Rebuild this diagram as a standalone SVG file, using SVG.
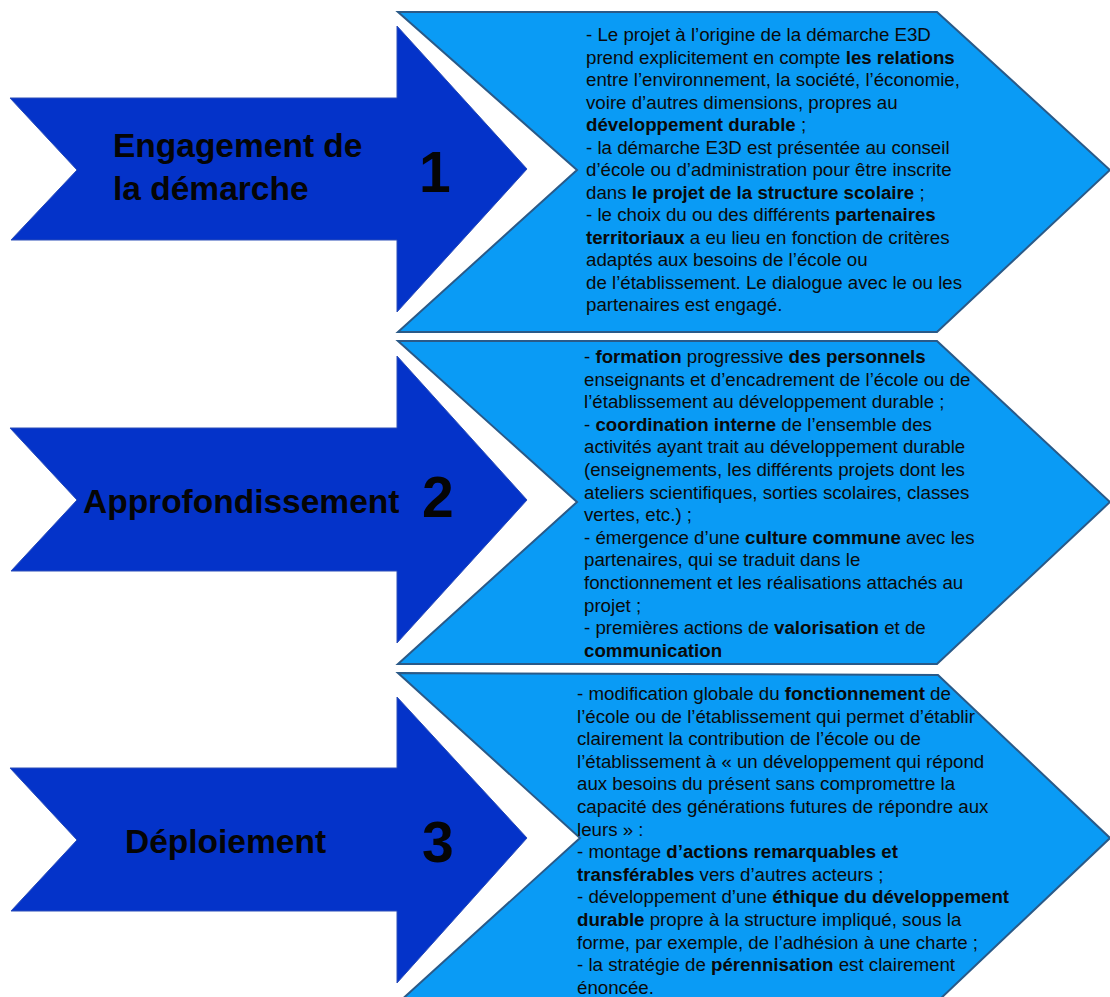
<svg xmlns="http://www.w3.org/2000/svg" width="1110" height="997" viewBox="0 0 1110 997">
<style>
.arrow{fill:#0433c9;stroke:#2c4fb8;stroke-width:1}
.panel{fill:#0a9bf5;stroke:#2a5a88;stroke-width:2}
.label{font-family:"Liberation Sans",Arial,sans-serif;font-weight:bold;font-size:33.5px;fill:#050505}
.num{font-family:"Liberation Sans",Arial,sans-serif;font-weight:bold;font-size:57px;fill:#050505}
.body{font-family:"Liberation Sans",Arial,sans-serif;font-size:18.7px;fill:#0a0a0a}
.b{font-weight:bold}
</style>
<rect width="1110" height="997" fill="#ffffff"/>
<g id="connectors"/>

<g id="step1">
  <polygon class="arrow" points="10,98 397,98 397,26 527,169 397,312 397,240 11,240 77,170"/>
  <text class="label"><tspan x="113" y="157">Engagement de</tspan><tspan x="113" y="200">la démarche</tspan></text>
  <text class="num" x="419" y="192">1</text>
</g>
<g id="panel1">
  <polygon class="panel" points="398,12 937,12 1110,170 937,332 398,332 577,170"/>
  <text class="body">
    <tspan x="586" y="41">- Le projet à l’origine de la démarche E3D</tspan>
    <tspan x="586" y="63.5">prend explicitement en compte <tspan class="b">les relations</tspan></tspan>
    <tspan x="586" y="86">entre l’environnement, la société, l’économie,</tspan>
    <tspan x="586" y="108.5">voire d’autres dimensions, propres au</tspan>
    <tspan x="586" y="131" class="b">développement durable<tspan font-weight="normal"> ;</tspan></tspan>
    <tspan x="586" y="153.5">- la démarche E3D est présentée au conseil</tspan>
    <tspan x="586" y="176">d’école ou d’administration pour être inscrite</tspan>
    <tspan x="586" y="198.5">dans <tspan class="b">le projet de la structure scolaire</tspan> ;</tspan>
    <tspan x="586" y="221">- le choix du ou des différents <tspan class="b">partenaires</tspan></tspan>
    <tspan x="586" y="243.5"><tspan class="b">territoriaux</tspan> a eu lieu en fonction de critères</tspan>
    <tspan x="586" y="266">adaptés aux besoins de l’école ou</tspan>
    <tspan x="586" y="288.5">de l’établissement. Le dialogue avec le ou les</tspan>
    <tspan x="586" y="311">partenaires est engagé.</tspan>
  </text>
</g>

<g id="step2">
  <polygon class="arrow" points="10,428 397,428 397,356 527,500 397,643 397,571 11,571 77,500"/>
  <text class="label" x="83" y="513">Approfondissement</text>
  <text class="num" x="422" y="517">2</text>
</g>
<g id="panel2">
  <polygon class="panel" points="398,341 937,341 1110,502 937,664 398,664 577,502"/>
  <text class="body">
    <tspan x="584" y="363">- <tspan class="b">formation</tspan> progressive <tspan class="b">des personnels</tspan></tspan>
    <tspan x="584" y="385.6">enseignants et d’encadrement de l’école ou de</tspan>
    <tspan x="584" y="408.2">l’établissement au développement durable ;</tspan>
    <tspan x="584" y="430.8">- <tspan class="b">coordination interne</tspan> de l’ensemble des</tspan>
    <tspan x="584" y="453.4">activités ayant trait au développement durable</tspan>
    <tspan x="584" y="476">(enseignements, les différents projets dont les</tspan>
    <tspan x="584" y="498.6">ateliers scientifiques, sorties scolaires, classes</tspan>
    <tspan x="584" y="521.2">vertes, etc.) ;</tspan>
    <tspan x="584" y="543.8">- émergence d’une <tspan class="b">culture commune</tspan> avec les</tspan>
    <tspan x="584" y="566.4">partenaires, qui se traduit dans le</tspan>
    <tspan x="584" y="589">fonctionnement et les réalisations attachés au</tspan>
    <tspan x="584" y="611.6">projet ;</tspan>
    <tspan x="584" y="634.2">- premières actions de <tspan class="b">valorisation</tspan> et de</tspan>
    <tspan x="584" y="656.8" class="b">communication</tspan>
  </text>
</g>

<g id="step3">
  <polygon class="arrow" points="10,768 397,768 397,697 527,838 397,983 397,911 11,911 77,840"/>
  <text class="label" x="125" y="853">Déploiement</text>
  <text class="num" x="422" y="862">3</text>
</g>
<g id="panel3">
  <polygon class="panel" points="398,673 938,675 1110,838 938,1001 398,1003 580,838"/>
  <text class="body">
    <tspan x="577" y="700">- modification globale du <tspan class="b">fonctionnement</tspan> de</tspan>
    <tspan x="577" y="722.6">l’école ou de l’établissement qui permet d’établir</tspan>
    <tspan x="577" y="745.2">clairement la contribution de l’école ou de</tspan>
    <tspan x="577" y="767.8">l’établissement à « un développement qui répond</tspan>
    <tspan x="577" y="790.4">aux besoins du présent sans compromettre la</tspan>
    <tspan x="577" y="813">capacité des générations futures de répondre aux</tspan>
    <tspan x="577" y="835.6">leurs » :</tspan>
    <tspan x="577" y="858.2">- montage <tspan class="b">d’actions remarquables et</tspan></tspan>
    <tspan x="577" y="880.8"><tspan class="b">transférables</tspan> vers d’autres acteurs ;</tspan>
    <tspan x="577" y="903.4">- développement d’une <tspan class="b">éthique du développement</tspan></tspan>
    <tspan x="577" y="926"><tspan class="b">durable</tspan> propre à la structure impliqué, sous la</tspan>
    <tspan x="577" y="948.6">forme, par exemple, de l’adhésion à une charte ;</tspan>
    <tspan x="577" y="971.2">- la stratégie de <tspan class="b">pérennisation</tspan> est clairement</tspan>
    <tspan x="577" y="993.8">énoncée.</tspan>
  </text>
</g>
</svg>
